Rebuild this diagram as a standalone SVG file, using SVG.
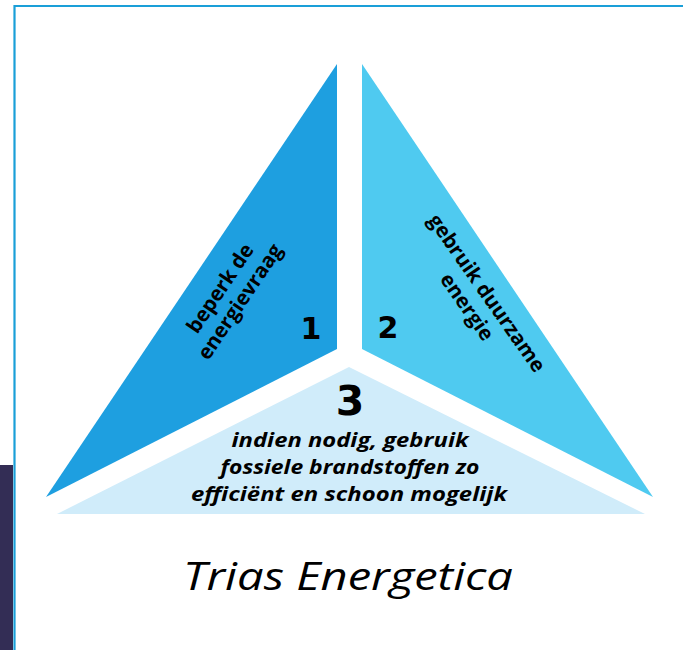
<svg xmlns="http://www.w3.org/2000/svg" width="683" height="650" viewBox="0 0 683 650">
<style>
.lbl{font-family:"Open Sans","Noto Sans","Liberation Sans",sans-serif;font-weight:700;fill:#000;text-anchor:middle}
.num{font-family:"DejaVu Sans","Liberation Sans",sans-serif;font-weight:700;fill:#000;text-anchor:middle}
.it{font-family:"Open Sans","Noto Sans","Liberation Sans",sans-serif;font-style:italic;fill:#000;text-anchor:middle}
</style>
<rect width="683" height="650" fill="#fff"/>
<rect x="0" y="465" width="13" height="185" fill="#332d55"/>
<path d="M683 6 H14.5 V650" fill="none" stroke="#1a9fd8" stroke-width="2.2"/>
<g id="part1">
<polygon points="337,64 337,349 46,497" fill="#1e9fe0"/>
<g transform="translate(230,295) rotate(-56)">
<text class="lbl" x="0" y="-5" font-size="20.5">beperk de</text>
<text class="lbl" x="0" y="19" font-size="20.5">energievraag</text>
</g>
<text class="num" x="311" y="339" font-size="30">1</text>
</g>
<g id="part2">
<polygon points="362,64 362,349 653,497" fill="#4fcaf0"/>
<g transform="translate(477,300) rotate(55)">
<text class="lbl" x="0" y="-5" font-size="20.5">gebruik duurzame</text>
<text class="lbl" x="0" y="19" font-size="20.5">energie</text>
</g>
<text class="num" x="388" y="338" font-size="30">2</text>
</g>
<g id="part3">
<polygon points="349,367 57,514 645,514" fill="#d0ecfa"/>
<text class="num" x="350" y="415" font-size="41">3</text>
<text class="lbl" font-style="italic" x="350" y="447" font-size="20" textLength="237" lengthAdjust="spacingAndGlyphs">indien nodig, gebruik</text>
<text class="lbl" font-style="italic" x="350" y="474" font-size="20" textLength="259" lengthAdjust="spacingAndGlyphs">fossiele brandstoffen zo</text>
<text class="lbl" font-style="italic" x="349" y="501" font-size="20" textLength="316" lengthAdjust="spacingAndGlyphs">efficiënt en schoon mogelijk</text>
</g>
<g id="connectors"></g>
<text id="title" class="it" x="348" y="590" font-size="38" textLength="330" lengthAdjust="spacingAndGlyphs">Trias Energetica</text>
</svg>
